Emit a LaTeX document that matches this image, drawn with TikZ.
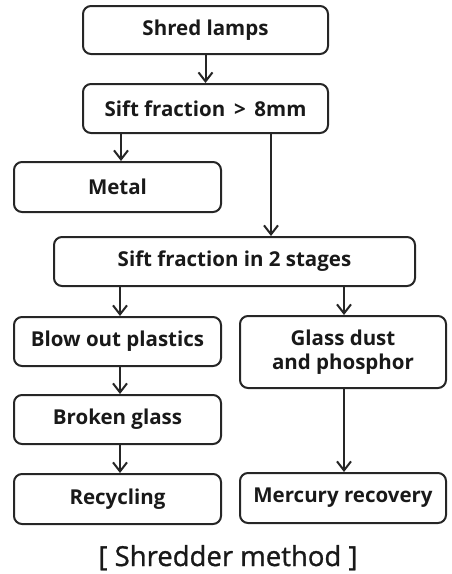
\documentclass[tikz,border=0pt]{standalone}
\usepackage{fontspec}
\setmainfont{Open Sans}
\newfontfamily\capfont{Open Sans}[FakeBold=1]
\usepackage{tikz}
\usetikzlibrary{%
  arrows.meta%
}

\begin{document}
\begin{tikzpicture}[x=1pt,y=1pt,
    box/.style={draw=black!85,line width=2pt,rounded corners=8pt,
      align=center,inner sep=0pt,font=\fontsize{20.5}{24}\selectfont\bfseries,
      text=black!90},
    arr/.style={draw=black!85,line width=2pt,-{Straight Barb[length=9pt,width=14pt,line width=2pt]}}]
      \useasboundingbox (0,0) rectangle (452,-574);
      \node [box,minimum width=245,minimum height=48] (shred) at (205.5,-30) {Shred lamps};
      \node [box,minimum width=245,minimum height=49] (sieve) at (205.5,-108.5) {Sift fraction \,>\, 8mm};
      \node [box,minimum width=207,minimum height=50] (metal) at (117.5,-187) {Metal};
      \node [box,minimum width=361,minimum height=49] (stages) at (234.5,-261.5) {Sift fraction in 2 stages};
      \node [box,minimum width=207,minimum height=49] (plastics) at (117.5,-341.5) {Blow out plastics};
      \node [box,minimum width=206,minimum height=72] (dust) at (343,-352) {Glass dust\\and phosphor};
      \node [box,minimum width=207,minimum height=49] (glass) at (117.5,-419.5) {Broken glass};
      \node [box,minimum width=207,minimum height=50] (recycle) at (117.5,-499) {Recycling};
      \node [box,minimum width=206,minimum height=50] (mercury) at (343,-498) {Mercury recovery};
      \node [font=\capfont\fontsize{27.5}{30}\selectfont,text=black!90,inner sep=0pt,anchor=base] (caption) at (228,-566) {[ Shredder method ]};
      \draw [arr] (shred) -- (sieve);
      \draw [arr] ([xshift=3.5pt]metal.north |- sieve.south) -- ([xshift=3.5pt]metal.north);
      \draw [arr] ([xshift=65.5pt]sieve.south) -- ([xshift=65.5pt]sieve.south |- stages.north);
      \draw [arr] ([xshift=2.5pt]plastics.north |- stages.south) -- ([xshift=2.5pt]plastics.north);
      \draw [arr] ([xshift=1pt]dust.north |- stages.south) -- ([xshift=1pt]dust.north);
      \draw [arr] ([xshift=2.5pt]plastics.south) -- ([xshift=2.5pt]glass.north);
      \draw [arr] ([xshift=2.5pt]glass.south) -- ([xshift=2.5pt]recycle.north);
      \draw [arr] ([xshift=1pt]dust.south) -- ([xshift=1pt]mercury.north);
    \end{tikzpicture}
\end{document}
